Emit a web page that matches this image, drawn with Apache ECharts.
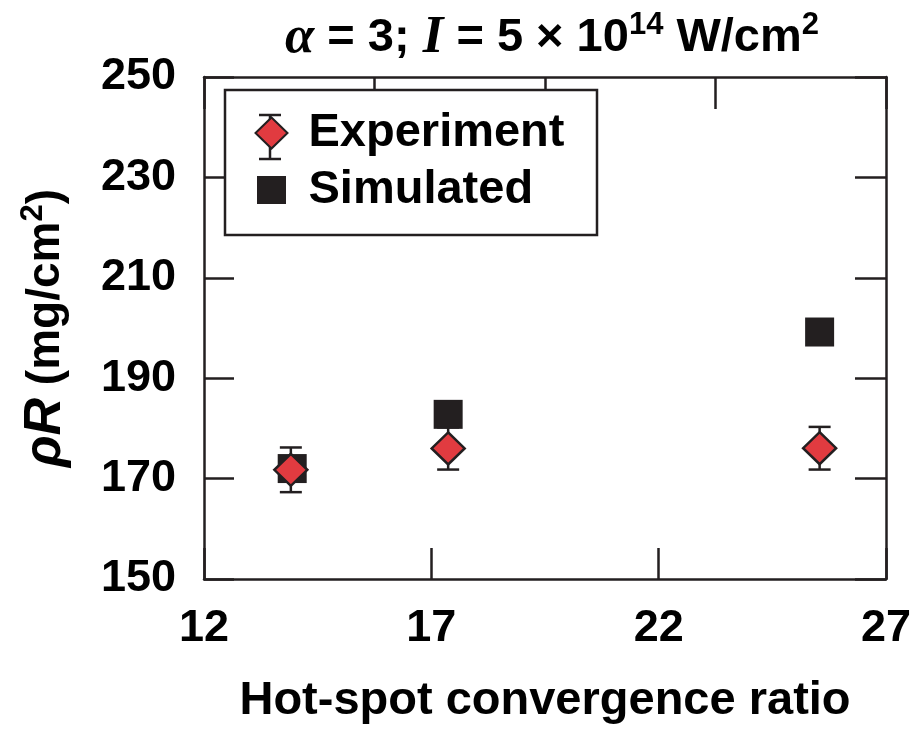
<!DOCTYPE html>
<html>
<head>
<meta charset="utf-8">
<script src="https://cdn.jsdelivr.net/npm/echarts@6/dist/echarts.min.js"></script>
<style>html,body{margin:0;padding:0;background:#fff;}#chart{width:918px;height:730px;}</style>
</head>
<body>
<div id="chart"></div>
<script>
// ---- data ----
const expConvergence = [13.91, 17.37, 25.54];
const expRhoR = [171.75, 176.0, 176.05];
const expErr = [4.45, 4.2, 4.25];
const simConvergence = [13.94, 17.37, 25.54];
const simRhoR = [172.0, 182.8, 199.2];
const xTickMin = 12, xTickMax = 27, xTickStep = 5;
const yTickMin = 150, yTickMax = 250, yTickStep = 20;
const seriesNames = ['Experiment', 'Simulated'];

const FONT = 'Liberation Sans, Arial, Helvetica, sans-serif';
const INK = '#231f20';
const RED = '#e13b40';

const expData = expConvergence.map((x, i) => [x, expRhoR[i]]);
const errData = expConvergence.map((x, i) => [x, expRhoR[i] - expErr[i], expRhoR[i] + expErr[i]]);
const simData = simConvergence.map((x, i) => [x, simRhoR[i]]);

const chart = echarts.init(document.getElementById('chart'), null, {renderer: 'canvas'});

const option = {
  backgroundColor: '#fff',
  animation: false,
  title: {
    left: 547,
    top: 5,
    textAlign: 'center',
    text: '{ai|α}{b| = 3; }{ai|I}{b| = 5 × 10}{sup|14}{b| W/cm}{sup|2}',
    textStyle: {
      rich: {
        ai: {fontFamily: 'Liberation Serif, DejaVu Serif, serif', fontStyle: 'italic', fontSize: 53, color: '#000', lineHeight: 56},
        b: {fontFamily: FONT, fontWeight: 'bold', fontSize: 47, color: '#000', lineHeight: 56},
        sup: {fontFamily: FONT, fontWeight: 'bold', fontSize: 31, color: '#000', verticalAlign: 'top', lineHeight: 34}
      }
    }
  },
  grid: {left: 204, right: 32, top: 77, bottom: 145, containLabel: false},
  legend: {
    orient: 'vertical',
    left: 254,
    top: 108,
    padding: 0,
    itemWidth: 32,
    itemHeight: 31,
    itemGap: 7,
    z: 6,
    textStyle: {fontFamily: FONT, fontWeight: 'bold', fontSize: 47, color: '#000', lineHeight: 50, padding: [0, 0, 0, 16]},
    data: [
      {name: seriesNames[0], icon: 'diamond'},
      {name: seriesNames[1], icon: 'rect', itemStyle: {borderColor: '#fff', borderWidth: 3}}
    ]
  },
  graphic: [
    {type: 'rect', z: 5, shape: {x: 225, y: 90, width: 372, height: 145}, style: {fill: '#fff', stroke: INK, lineWidth: 2.5}},
    {type: 'line', z: 5, z2: 10, shape: {x1: 270, y1: 115, x2: 270, y2: 159}, style: {stroke: INK, lineWidth: 2.5}},
    {type: 'line', z: 5, z2: 10, shape: {x1: 259, y1: 115, x2: 281, y2: 115}, style: {stroke: INK, lineWidth: 2.5}},
    {type: 'line', z: 5, z2: 10, shape: {x1: 259, y1: 159, x2: 281, y2: 159}, style: {stroke: INK, lineWidth: 2.5}}
  ],
  xAxis: [
    {
      type: 'value', position: 'bottom', min: xTickMin, max: xTickMax, interval: xTickStep,
      name: 'Hot-spot convergence ratio', nameLocation: 'middle', nameGap: 99,
      nameTextStyle: {fontFamily: FONT, fontWeight: 'bold', fontSize: 47, color: '#000'},
      axisLine: {show: true, lineStyle: {color: INK, width: 2.5}},
      axisTick: {show: true, inside: true, length: 31, lineStyle: {color: INK, width: 2.5}},
      axisLabel: {margin: 27, fontFamily: FONT, fontWeight: 'bold', fontSize: 45, color: '#000'},
      splitLine: {show: false}
    },
    {
      type: 'value', position: 'top', min: 0, max: 4, interval: 1,
      axisLine: {show: true, lineStyle: {color: INK, width: 2.5}},
      axisTick: {show: true, inside: true, length: 32, lineStyle: {color: INK, width: 2.5}},
      axisLabel: {show: false},
      splitLine: {show: false}
    }
  ],
  yAxis: [
    {
      type: 'value', position: 'left', min: yTickMin, max: yTickMax, interval: yTickStep,
      name: '{i|ρR}{b| (mg/cm}{sup|2}{b|)}', nameLocation: 'middle', nameGap: 130,
      nameTextStyle: {
        rich: {
          i: {fontFamily: FONT, fontWeight: 'bold', fontStyle: 'italic', fontSize: 52, color: '#000', lineHeight: 56},
          b: {fontFamily: FONT, fontWeight: 'bold', fontSize: 46, color: '#000', lineHeight: 56},
          sup: {fontFamily: FONT, fontWeight: 'bold', fontSize: 31, color: '#000', verticalAlign: 'top', lineHeight: 34}
        }
      },
      axisLine: {show: true, lineStyle: {color: INK, width: 2.5}},
      axisTick: {show: true, inside: true, length: 30, lineStyle: {color: INK, width: 2.5}},
      axisLabel: {margin: 28, fontFamily: FONT, fontWeight: 'bold', fontSize: 45, color: '#000'},
      splitLine: {show: false}
    },
    {
      type: 'value', position: 'right', min: yTickMin, max: yTickMax, interval: yTickStep,
      axisLine: {show: true, lineStyle: {color: INK, width: 2.5}},
      axisTick: {show: true, inside: true, length: 31, lineStyle: {color: INK, width: 2.5}},
      axisLabel: {show: false},
      splitLine: {show: false}
    }
  ],
  series: [
    {
      name: seriesNames[1], type: 'scatter', xAxisIndex: 0, yAxisIndex: 0,
      symbol: 'rect', symbolSize: 29, z: 2,
      itemStyle: {color: INK, opacity: 1},
      data: simData
    },
    {
      name: 'error', type: 'custom', xAxisIndex: 0, yAxisIndex: 0, z: 3,
      renderItem: function (params, api) {
        const x = api.value(0);
        const lo = api.coord([x, api.value(1)]);
        const hi = api.coord([x, api.value(2)]);
        const h = 11;
        const st = {stroke: INK, lineWidth: 2.5, fill: null};
        return {type: 'group', children: [
          {type: 'line', shape: {x1: hi[0], y1: hi[1], x2: lo[0], y2: lo[1]}, style: st},
          {type: 'line', shape: {x1: hi[0] - h, y1: hi[1], x2: hi[0] + h, y2: hi[1]}, style: st},
          {type: 'line', shape: {x1: lo[0] - h, y1: lo[1], x2: lo[0] + h, y2: lo[1]}, style: st}
        ]};
      },
      encode: {x: 0, y: [1, 2]},
      data: errData
    },
    {
      name: seriesNames[0], type: 'scatter', xAxisIndex: 0, yAxisIndex: 0,
      symbol: 'diamond', symbolSize: [33, 32], z: 4,
      itemStyle: {color: RED, borderColor: INK, borderWidth: 2.5, opacity: 1},
      data: expData
    }
  ]
};
chart.setOption(option);
</script>
</body>
</html>
